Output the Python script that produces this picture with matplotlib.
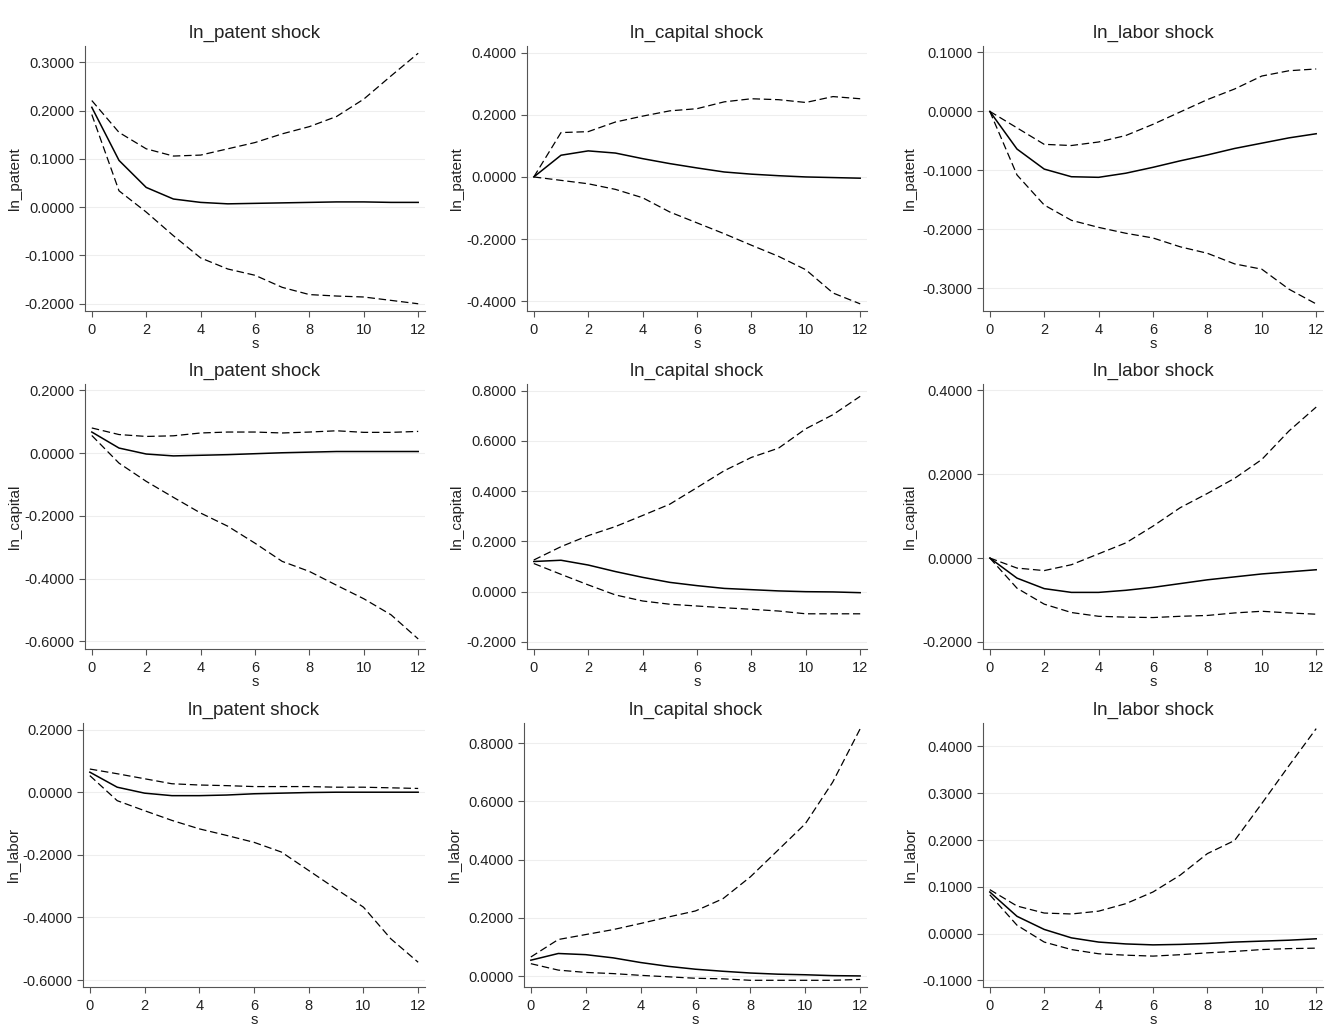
import matplotlib
matplotlib.use("Agg")
import matplotlib.pyplot as plt

plt.rcParams["font.family"] = ["Liberation Sans", "DejaVu Sans"]

steps = list(range(13))

shocks = ["ln_patent", "ln_capital", "ln_labor"]
responses = ["ln_patent", "ln_capital", "ln_labor"]

# response ln_patent
pat_pat_irf = [0.207, 0.097, 0.041, 0.017, 0.010, 0.007, 0.008, 0.009, 0.010, 0.011, 0.011, 0.010, 0.010]
pat_pat_hi = [0.221, 0.155, 0.121, 0.106, 0.108, 0.121, 0.134, 0.152, 0.167, 0.188, 0.224, 0.272, 0.319]
pat_pat_lo = [0.192, 0.034, -0.010, -0.059, -0.105, -0.128, -0.141, -0.166, -0.181, -0.184, -0.186, -0.193, -0.200]

pat_cap_irf = [0.0, 0.070, 0.084, 0.077, 0.059, 0.043, 0.029, 0.016, 0.009, 0.004, 0.0, -0.002, -0.004]
pat_cap_hi = [0.0, 0.143, 0.146, 0.177, 0.196, 0.213, 0.220, 0.242, 0.252, 0.249, 0.240, 0.259, 0.252]
pat_cap_lo = [0.0, -0.011, -0.022, -0.040, -0.067, -0.113, -0.148, -0.183, -0.220, -0.256, -0.299, -0.374, -0.409]

pat_lab_irf = [0.0, -0.064, -0.098, -0.111, -0.112, -0.105, -0.095, -0.084, -0.074, -0.063, -0.054, -0.045, -0.038]
pat_lab_hi = [0.0, -0.028, -0.056, -0.058, -0.052, -0.041, -0.022, -0.001, 0.020, 0.038, 0.060, 0.069, 0.072]
pat_lab_lo = [0.0, -0.108, -0.159, -0.185, -0.197, -0.207, -0.215, -0.230, -0.241, -0.259, -0.268, -0.302, -0.327]

# response ln_capital
cap_pat_irf = [0.067, 0.016, -0.003, -0.009, -0.007, -0.005, -0.002, 0.001, 0.003, 0.005, 0.005, 0.005, 0.005]
cap_pat_hi = [0.080, 0.059, 0.053, 0.055, 0.064, 0.067, 0.067, 0.064, 0.067, 0.071, 0.066, 0.066, 0.069]
cap_pat_lo = [0.056, -0.032, -0.090, -0.141, -0.191, -0.233, -0.287, -0.345, -0.377, -0.421, -0.464, -0.515, -0.592]

cap_cap_irf = [0.120, 0.125, 0.106, 0.080, 0.057, 0.037, 0.024, 0.013, 0.008, 0.003, 0.0, -0.001, -0.004]
cap_cap_hi = [0.126, 0.179, 0.223, 0.259, 0.303, 0.348, 0.414, 0.481, 0.534, 0.571, 0.648, 0.704, 0.777]
cap_cap_lo = [0.112, 0.069, 0.027, -0.013, -0.037, -0.050, -0.057, -0.064, -0.070, -0.077, -0.088, -0.088, -0.088]

cap_lab_irf = [0.0, -0.048, -0.073, -0.082, -0.082, -0.077, -0.070, -0.061, -0.052, -0.045, -0.038, -0.033, -0.028]
cap_lab_hi = [0.0, -0.024, -0.030, -0.016, 0.010, 0.036, 0.076, 0.120, 0.154, 0.190, 0.235, 0.303, 0.360]
cap_lab_lo = [0.0, -0.072, -0.110, -0.130, -0.139, -0.141, -0.142, -0.139, -0.137, -0.131, -0.127, -0.131, -0.134]

# response ln_labor
lab_pat_irf = [0.064, 0.016, -0.003, -0.011, -0.011, -0.009, -0.005, -0.003, -0.001, 0.0, 0.0, 0.0, 0.0]
lab_pat_hi = [0.074, 0.059, 0.043, 0.027, 0.023, 0.021, 0.018, 0.018, 0.018, 0.016, 0.016, 0.014, 0.012]
lab_pat_lo = [0.053, -0.027, -0.059, -0.090, -0.117, -0.138, -0.160, -0.191, -0.250, -0.309, -0.367, -0.468, -0.543]

lab_cap_irf = [0.055, 0.078, 0.074, 0.063, 0.047, 0.034, 0.024, 0.017, 0.011, 0.007, 0.005, 0.002, 0.001]
lab_cap_hi = [0.066, 0.126, 0.143, 0.160, 0.181, 0.203, 0.224, 0.266, 0.341, 0.432, 0.523, 0.666, 0.849]
lab_cap_lo = [0.043, 0.021, 0.013, 0.009, 0.003, -0.002, -0.007, -0.009, -0.014, -0.014, -0.014, -0.014, -0.011]

lab_lab_irf = [0.089, 0.037, 0.009, -0.009, -0.018, -0.022, -0.024, -0.023, -0.021, -0.018, -0.016, -0.014, -0.011]
lab_lab_hi = [0.094, 0.059, 0.044, 0.042, 0.048, 0.064, 0.089, 0.125, 0.171, 0.199, 0.278, 0.359, 0.438]
lab_lab_lo = [0.083, 0.018, -0.018, -0.034, -0.043, -0.046, -0.048, -0.045, -0.041, -0.038, -0.034, -0.032, -0.031]

panels = [
    [(pat_pat_irf, pat_pat_hi, pat_pat_lo), (pat_cap_irf, pat_cap_hi, pat_cap_lo), (pat_lab_irf, pat_lab_hi, pat_lab_lo)],
    [(cap_pat_irf, cap_pat_hi, cap_pat_lo), (cap_cap_irf, cap_cap_hi, cap_cap_lo), (cap_lab_irf, cap_lab_hi, cap_lab_lo)],
    [(lab_pat_irf, lab_pat_hi, lab_pat_lo), (lab_cap_irf, lab_cap_hi, lab_cap_lo), (lab_lab_irf, lab_lab_hi, lab_lab_lo)],
]

yticks = [
    [[-0.2, -0.1, 0.0, 0.1, 0.2, 0.3], [-0.4, -0.2, 0.0, 0.2, 0.4], [-0.3, -0.2, -0.1, 0.0, 0.1]],
    [[-0.6, -0.4, -0.2, 0.0, 0.2], [-0.2, 0.0, 0.2, 0.4, 0.6, 0.8], [-0.2, 0.0, 0.2, 0.4]],
    [[-0.6, -0.4, -0.2, 0.0, 0.2], [0.0, 0.2, 0.4, 0.6, 0.8], [-0.1, 0.0, 0.1, 0.2, 0.3, 0.4]],
]
ylims = [
    [(-0.215, 0.334), (-0.432, 0.422), (-0.339, 0.111)],
    [(-0.624, 0.220), (-0.228, 0.826), (-0.217, 0.415)],
    [(-0.622, 0.221), (-0.037, 0.869), (-0.114, 0.450)],
]

W, H = 1326, 1025
fig = plt.figure(figsize=(W / 100, H / 100), dpi=100)

# axes boxes in pixels
col_lr = [(85, 425), (527, 867), (983, 1323)]
row_tb = [(46, 311), (384, 649), (723, 987)]
col_left_row2 = [83, 524, 983]
ylab_x = [-0.185, -0.185, -0.193]

for i in range(3):
    for j in range(3):
        l, r = col_lr[j]
        if i == 2:
            l = col_left_row2[j]
        t, b = row_tb[i]
        ax = fig.add_axes([l / W, 1 - b / H, (r - l) / W, (b - t) / H])
        irf, hi, lo = panels[i][j]
        ax.plot(steps, irf, color="black", lw=1.1)
        ax.plot(steps, hi, color="black", lw=0.9, dashes=(6, 3))
        ax.plot(steps, lo, color="black", lw=0.9, dashes=(6, 3))
        ax.set_xlim(-0.25, 12.25)
        ax.set_ylim(*ylims[i][j])
        ax.set_xticks(range(0, 13, 2))
        ax.set_yticks(yticks[i][j])
        ax.set_yticklabels(["%.4f" % v for v in yticks[i][j]])
        ax.grid(axis="y", color="#eeeeee", lw=0.8)
        ax.set_axisbelow(True)
        for s in ["top", "right"]:
            ax.spines[s].set_visible(False)
        for s in ["left", "bottom"]:
            ax.spines[s].set_color("#555555")
            ax.spines[s].set_linewidth(0.8)
        ax.tick_params(colors="#555555", labelcolor="#222222", labelsize=10.5,
                       length=4, width=0.8, direction="out")
        ax.tick_params(axis="x", pad=5)
        ax.set_xlabel("s", fontsize=10.5, labelpad=0, color="#222222")
        ax.set_ylabel(responses[i], fontsize=11, color="#222222")
        ax.yaxis.set_label_coords(ylab_x[j], 0.5)
        ax.set_title(shocks[j] + " shock", fontsize=13.5, pad=6, color="#222222")

plt.savefig("out.png", dpi=100, facecolor="white")
